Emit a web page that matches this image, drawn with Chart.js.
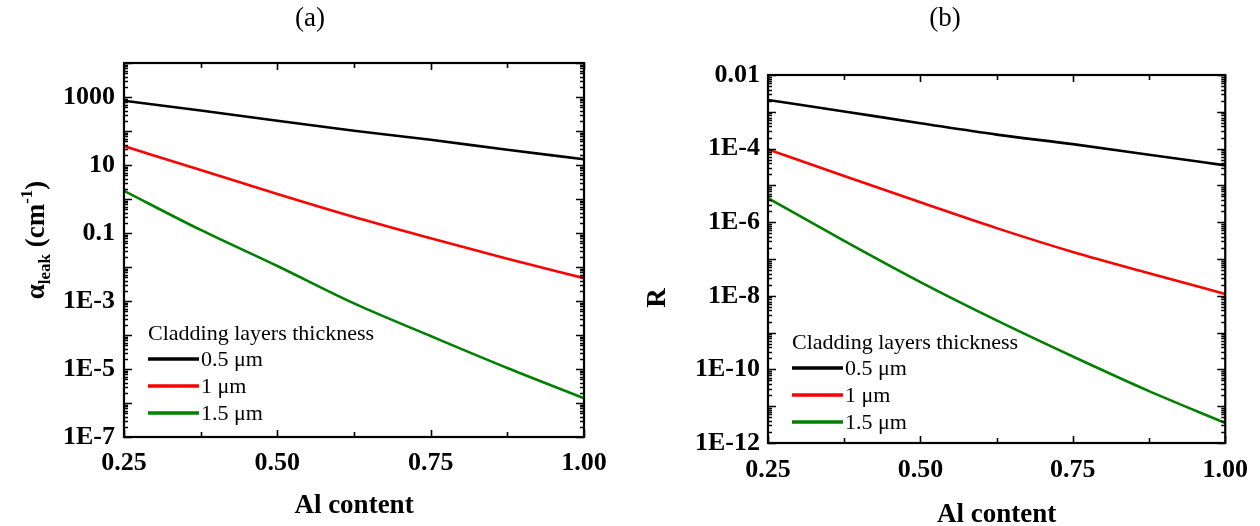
<!DOCTYPE html>
<html>
<head>
<meta charset="utf-8">
<script src="https://cdn.jsdelivr.net/npm/chart.js@4.4.1/dist/chart.umd.min.js"></script>
<style>
  html, body { margin: 0; padding: 0; background: #fff; }
  #wrap { position: relative; width: 1260px; height: 526px; overflow: hidden; }
  .panel { position: absolute; top: 0; width: 630px; height: 526px; }
</style>
</head>
<body>
<div id="wrap">
  <div class="panel" style="left:0"><canvas id="chartA" width="630" height="526"></canvas></div>
  <div class="panel" style="left:630px"><canvas id="chartB" width="630" height="526"></canvas></div>
</div>
<script>
// Al content (x)
const alContent = [0.25, 0.375, 0.5, 0.625, 0.75, 0.875, 1.0];
const seriesLabels = ['0.5 μm', '1 μm', '1.5 μm'];
const seriesColors = ['#000000', '#ff0000', '#008000'];
const legendTitle = 'Cladding layers thickness';

// (a) leakage loss, cm^-1
const leakThin = [776, 400, 200, 102, 55, 28, 14.8];
const leakMid = [36, 7.1, 1.4, 0.295, 0.070, 0.0174, 0.0047];
const leakThick = [1.74, 0.123, 0.0107, 8.5e-4, 9.3e-5, 1.07e-5, 1.38e-6];

// (b) R
const rThin = [2.09e-3, 1.02e-3, 4.9e-4, 2.4e-4, 1.32e-4, 6.8e-5, 3.5e-5];
const rMid = [9.5e-5, 1.8e-5, 3.47e-6, 6.9e-7, 1.55e-7, 4.1e-8, 1.12e-8];
const rThick = [4.5e-6, 3.1e-7, 2.35e-8, 2.14e-9, 2.24e-10, 2.57e-11, 3.5e-12];

// ticks
const xTickVals = [0.25, 0.5, 0.75, 1.0];
const xMinorVals = [0.375, 0.625, 0.875];
const yTicksA = [1e3, 1e1, 1e-1, 1e-3, 1e-5, 1e-7];
const yTickLabelsA = ['1000', '10', '0.1', '1E-3', '1E-5', '1E-7'];
const yTicksB = [1e-2, 1e-4, 1e-6, 1e-8, 1e-10, 1e-12];
const yTickLabelsB = ['0.01', '1E-4', '1E-6', '1E-8', '1E-10', '1E-12'];

const SERIF = "'Liberation Serif', 'Times New Roman', serif";

function toPoints(ys) {
    return alContent.map((x, i) => ({ x: x, y: ys[i] }));
}

function makeDatasets(groups) {
    return groups.map((g, i) => ({
        label: seriesLabels[i],
        data: toPoints(g),
        borderColor: seriesColors[i],
        backgroundColor: seriesColors[i],
        borderWidth: 2.6,
        pointRadius: 0,
        cubicInterpolationMode: 'monotone',
        fill: false
    }));
}

// frame, inner ticks, panel tag, rotated y title and legend
const decor = {
    id: 'decor',
    afterDraw(chart, args, opts) {
        const ctx = chart.ctx;
        const { left, right, top, bottom } = chart.chartArea;
        const xs = chart.scales.x, ys = chart.scales.y;
        ctx.save();
        ctx.strokeStyle = '#000';
        ctx.lineWidth = 1.6;
        ctx.beginPath();
        const minE = Math.round(Math.log10(ys.min));
        const maxE = Math.round(Math.log10(ys.max));
        for (let e = minE; e <= maxE; e++) {
            for (let k = 1; k <= 9; k++) {
                const v = k * Math.pow(10, e);
                if (v < ys.min * 0.999 || v > ys.max * 1.001) continue;
                const py = Math.round(ys.getPixelForValue(v)) + 0.5;
                const len = k === 1 ? 8 : 4;
                ctx.moveTo(left, py); ctx.lineTo(left + len, py);
                ctx.moveTo(right, py); ctx.lineTo(right - len, py);
            }
        }
        xTickVals.concat(xMinorVals).forEach(v => {
            const px = Math.round(xs.getPixelForValue(v)) + 0.5;
            const len = xTickVals.includes(v) ? 7 : 5;
            ctx.moveTo(px, bottom); ctx.lineTo(px, bottom - len);
            ctx.moveTo(px, top); ctx.lineTo(px, top + len);
        });
        ctx.stroke();

        ctx.lineWidth = 2.2;
        ctx.strokeRect(left, top, right - left, bottom - top);

        ctx.fillStyle = '#000';
        // panel tag
        ctx.font = '27px ' + SERIF;
        ctx.textAlign = 'center';
        ctx.textBaseline = 'middle';
        ctx.fillText(opts.tag, opts.tagX, opts.tagY);

        // y title with sub/superscripts
        ctx.save();
        ctx.translate(opts.yTitleX, opts.yTitleY);
        ctx.rotate(-Math.PI / 2);
        ctx.textAlign = 'left';
        ctx.textBaseline = 'alphabetic';
        let total = 0;
        opts.yTitle.forEach(p => {
            ctx.font = 'bold ' + p.size + 'px ' + SERIF;
            p.w = ctx.measureText(p.t).width;
            total += p.w;
        });
        let cx = -total / 2;
        opts.yTitle.forEach(p => {
            ctx.font = 'bold ' + p.size + 'px ' + SERIF;
            ctx.fillText(p.t, cx, p.dy || 0);
            cx += p.w;
        });
        ctx.restore();

        // legend
        const lg = opts.legend;
        ctx.font = '22px ' + SERIF;
        ctx.textAlign = 'left';
        ctx.textBaseline = 'alphabetic';
        ctx.fillText(legendTitle, lg.x, lg.titleY);
        ctx.textBaseline = 'middle';
        chart.data.datasets.forEach((ds, i) => {
            const y = lg.rowY[i];
            ctx.strokeStyle = ds.borderColor;
            ctx.lineWidth = 3.5;
            ctx.beginPath();
            ctx.moveTo(lg.x, y);
            ctx.lineTo(lg.x + 51, y);
            ctx.stroke();
            ctx.fillText(ds.label, lg.x + 53, y + 1);
        });
        ctx.restore();
    }
};

function makeChart(id, groups, yMin, yMax, yTickVals, yTickLabels, geo) {
    const tickFont = { family: SERIF, size: 26, weight: 'bold' };
    return new Chart(document.getElementById(id), {
        type: 'line',
        data: { datasets: makeDatasets(groups) },
        plugins: [decor],
        options: {
            responsive: false,
            animation: false,
            events: [],
            layout: { padding: { left: 0, top: geo.top, right: geo.right, bottom: geo.bottom } },
            plugins: {
                legend: { display: false },
                title: { display: false },
                tooltip: { enabled: false },
                decor: geo.decor
            },
            scales: {
                x: {
                    type: 'linear',
                    min: 0.25,
                    max: 1.0,
                    afterBuildTicks: s => { s.ticks = xTickVals.map(v => ({ value: v })); },
                    afterFit: s => { s.height = geo.xHeight; },
                    ticks: {
                        font: tickFont,
                        color: '#000',
                        padding: geo.xPad,
                        maxRotation: 0,
                        autoSkip: false,
                        callback: v => Number(v).toFixed(2)
                    },
                    grid: { display: false, drawTicks: false },
                    border: { display: false },
                    title: {
                        display: true,
                        text: 'Al content',
                        color: '#000',
                        font: { family: SERIF, size: 27, weight: 'bold', lineHeight: 0.8 },
                        padding: { top: 0, bottom: 0 }
                    }
                },
                y: {
                    type: 'logarithmic',
                    min: yMin,
                    max: yMax,
                    afterBuildTicks: s => { s.ticks = yTickVals.map(v => ({ value: v })); },
                    afterFit: s => { s.width = geo.yWidth; },
                    ticks: {
                        font: tickFont,
                        color: '#000',
                        padding: geo.yPad,
                        autoSkip: false,
                        callback: v => {
                            const i = yTickVals.findIndex(t => Math.abs(Math.log10(t) - Math.log10(v)) < 1e-6);
                            return i >= 0 ? yTickLabels[i] : '';
                        }
                    },
                    grid: { display: false, drawTicks: false },
                    border: { display: false }
                }
            }
        }
    });
}

makeChart('chartA', [leakThin, leakMid, leakThick], 1e-7, 1e4, yTicksA, yTickLabelsA, {
    top: 63, right: 46, bottom: 9, xHeight: 80, yWidth: 124, xPad: 11, yPad: 9,
    decor: {
        tag: '(a)', tagX: 310, tagY: 19,
        yTitleX: 44, yTitleY: 240,
        yTitle: [
            { t: 'α', size: 27 },
            { t: 'leak', size: 17, dy: 6 },
            { t: ' (cm', size: 27 },
            { t: '-1', size: 17, dy: -12 },
            { t: ')', size: 27 }
        ],
        legend: { x: 148, titleY: 340, rowY: [359, 386, 413] }
    }
});

makeChart('chartB', [rThin, rMid, rThick], 1e-12, 1e-2, yTicksB, yTickLabelsB, {
    top: 75, right: 32, bottom: 0, xHeight: 83, yWidth: 138, xPad: 12, yPad: 8,
    decor: {
        tag: '(b)', tagX: 315, tagY: 19,
        yTitleX: 35, yTitleY: 298,
        yTitle: [{ t: 'R', size: 27 }],
        legend: { x: 162, titleY: 349, rowY: [368, 395, 422] }
    }
});
</script>
</body>
</html>
